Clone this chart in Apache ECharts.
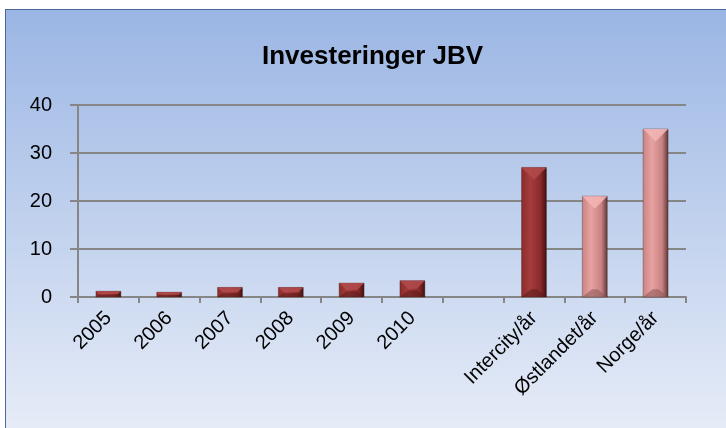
<!DOCTYPE html>
<html>
<head>
<meta charset="utf-8">
<script src="https://cdn.jsdelivr.net/npm/echarts@6/dist/echarts.min.js"></script>
<style>
  html, body { margin: 0; padding: 0; background: #ffffff; overflow: hidden; }
  #chart {
    position: absolute;
    left: 5px;
    top: 9px;
    width: 721px;
    height: 419px;
    border-left: 1px solid #4a6a9e;
    border-top: 1px solid #4a6a9e;
  }
</style>
</head>
<body>
<div id="chart"></div>
<script>
// kategorier og verdier
const categories = ["2005", "2006", "2007", "2008", "2009", "2010", "", "Intercity/år", "Østlandet/år", "Norge/år"];
const values = [1.2, 1.0, 2.0, 2.0, 2.9, 3.4, null, 27, 21, 35];
// fargegruppe: 0 = mørk rød, 1 = rosa
const colorGroup = [0, 0, 0, 0, 0, 0, 0, 0, 1, 1];
const yTicks = [0, 10, 20, 30, 40];

const palettes = [
  { left: "#8a2a2a", mid: "#a53d3d", dark: "#3a1010", top: "#b04a4a", bottom: "#5a1a1a" },
  { left: "#c98282", mid: "#e8a2a2", dark: "#5a3232", top: "#f2b4b4", bottom: "#8a5656" },
];

const myChart = echarts.init(document.getElementById("chart"));

function renderBar(params, api) {
  const idx = api.value(0);
  const val = api.value(1);
  if (val == null || isNaN(val)) return null;
  const top = api.coord([idx, val]);
  const base = api.coord([idx, 0]);
  const w = api.size([1, 0])[0] * 0.41;
  const x0 = top[0] - w / 2;
  const x1 = top[0] + w / 2;
  const yT = top[1];
  const yB = base[1];
  const h = yB - yT;
  const p = palettes[colorGroup[idx]];
  const d = Math.min(w / 2, h / 2);
  const db = Math.min(w / 2.6, h / 2);
  return {
    type: "group",
    children: [
      {
        type: "rect",
        shape: { x: x0, y: yT, width: w, height: h },
        style: {
          fill: new echarts.graphic.LinearGradient(0, 0, 1, 0, [
            { offset: 0, color: p.left },
            { offset: 0.35, color: p.mid },
            { offset: 0.75, color: p.left },
            { offset: 1, color: p.dark },
          ]),
          stroke: "rgba(60,30,30,0.35)",
          lineWidth: 1,
        },
      },
      {
        type: "polygon",
        shape: { points: [[x0, yT], [x1, yT], [x1 - d, yT + d], [x0 + d, yT + d]] },
        style: { fill: p.top, opacity: 0.9 },
      },
      {
        type: "polygon",
        shape: { points: [[x0, yB], [x1, yB], [x1 - db, yB - db * 0.8], [x0 + db, yB - db * 0.8]] },
        style: { fill: p.bottom, opacity: 0.55 },
      },
    ],
  };
}

const option = {
  animation: false,
  backgroundColor: new echarts.graphic.LinearGradient(0, 0, 0, 1, [
    { offset: 0, color: "#9bb6e4" },
    { offset: 1, color: "#e6ecf7" },
  ]),
  title: {
    text: "Investeringer JBV",
    left: 251,
    top: 29,
    textStyle: {
      fontFamily: "Liberation Sans",
      fontWeight: "bold",
      fontSize: 26,
      color: "#000000",
    },
  },
  grid: {
    left: 72,
    right: 41,
    top: 95,
    bottom: 132,
    containLabel: false,
  },
  xAxis: {
    type: "category",
    data: categories,
    boundaryGap: true,
    axisLine: { show: true, lineStyle: { color: "#868686", width: 2 } },
    axisTick: { show: true, length: 6, alignWithLabel: false, lineStyle: { color: "#868686", width: 2 } },
    axisLabel: {
      interval: 0,
      rotate: 45,
      margin: 18,
      fontFamily: "Liberation Sans",
      fontSize: 20,
      color: "#000000",
    },
  },
  yAxis: {
    type: "value",
    min: yTicks[0],
    max: yTicks[yTicks.length - 1],
    interval: 10,
    axisLine: { show: true, lineStyle: { color: "#868686", width: 2 } },
    axisTick: { show: true, length: 8, lineStyle: { color: "#868686", width: 2 } },
    splitLine: { show: true, lineStyle: { color: "#868686", width: 2 } },
    axisLabel: {
      margin: 26,
      fontFamily: "Liberation Sans",
      fontSize: 20,
      color: "#000000",
    },
  },
  series: [
    {
      type: "custom",
      renderItem: renderBar,
      encode: { x: 0, y: 1 },
      data: values.map((v, i) => [i, v]),
      z: 3,
    },
  ],
};

myChart.setOption(option);
</script>
</body>
</html>
